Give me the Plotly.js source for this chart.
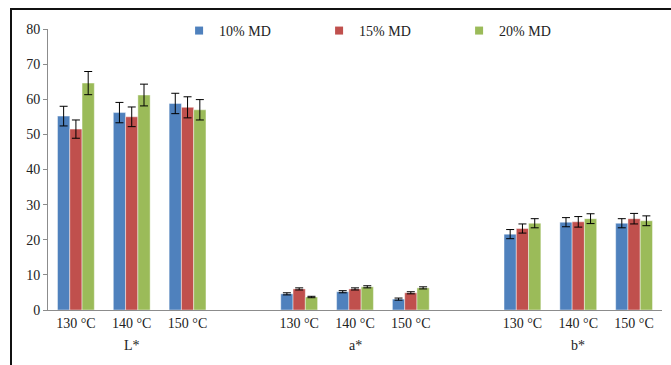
<!DOCTYPE html>
<html>
<head>
<meta charset="utf-8">
<script src="https://cdn.plot.ly/plotly-3.0.1.min.js"></script>
<style>
  html, body { margin: 0; padding: 0; background: #fff; }
  #wrap { position: relative; width: 671px; height: 365px; overflow: hidden; }
  #chart { position: absolute; left: 0; top: 0; width: 671px; height: 365px; }
  #frame { position: absolute; left: 10px; top: 8px; width: 700px; height: 400px;
           border-top: 2px solid #111; border-left: 2px solid #111; pointer-events: none; }
</style>
</head>
<body>
<div id="wrap"><div id="chart"></div><div id="frame"></div></div>
<script>
// ---- data ----
const groups = ["L*", "a*", "b*"];
const temps = ["130 °C", "140 °C", "150 °C"];
const seriesNames = ["10% MD", "15% MD", "20% MD"];
const seriesColors = ["#4F81BD", "#C0504D", "#9BBB59"];

// values per series: [L* 130,140,150, a* 130,140,150, b* 130,140,150]
const md10 = [55.2, 56.2, 58.8, 4.6, 5.2, 3.1, 21.6, 25.0, 24.7];
const md15 = [51.5, 55.0, 57.7, 6.0, 6.0, 4.9, 23.2, 25.1, 26.0];
const md20 = [64.6, 61.2, 57.0, 3.7, 6.6, 6.3, 24.7, 26.0, 25.4];

const err10 = [2.8, 2.9, 2.9, 0.3, 0.3, 0.3, 1.3, 1.3, 1.3];
const err15 = [2.6, 2.8, 3.0, 0.3, 0.3, 0.3, 1.3, 1.5, 1.5];
const err20 = [3.3, 3.1, 2.9, 0.2, 0.3, 0.3, 1.3, 1.4, 1.4];

const yTicks = [0, 10, 20, 30, 40, 50, 60, 70, 80];

// ---- build ----
const slotsPerGroup = temps.length + 1; // one empty slot between groups
const xPos = [];
const tickText = [];
groups.forEach((g, gi) => temps.forEach((t, ti) => {
  xPos.push(gi * slotsPerGroup + ti);
  tickText.push(t);
}));
const nSlots = groups.length * slotsPerGroup - 1;

const values = [md10, md15, md20];
const errors = [err10, err15, err20];
const font = "Liberation Serif";

const traces = [];
values.forEach((v, i) => {
  traces.push({
    type: "bar",
    x: xPos,
    y: v,
    name: seriesNames[i],
    showlegend: false,
    marker: { color: seriesColors[i], line: { color: "rgba(255,255,255,0.55)", width: 0.8 } },
    error_y: { type: "data", array: errors[i], visible: true, color: "#000", thickness: 1, width: 4 },
    hoverinfo: "skip"
  });
});
// legend-only entries with small square symbols
seriesNames.forEach((n, i) => {
  traces.push({
    type: "scatter", mode: "markers", x: [null], y: [null], name: n,
    marker: { symbol: "square", size: 8, color: seriesColors[i] },
    hoverinfo: "skip"
  });
});

const annotations = groups.map((g, gi) => ({
  text: g, x: gi * slotsPerGroup + 1, xref: "x",
  y: 0, yref: "paper", yanchor: "top", yshift: -26,
  showarrow: false, font: { family: font, size: 14, color: "#222" }
}));

const layout = {
  width: 671, height: 365,
  margin: { l: 48, r: 9, t: 29, b: 55, autoexpand: false },
  paper_bgcolor: "#fff", plot_bgcolor: "#fff",
  font: { family: font, size: 14, color: "#222" },
  barmode: "group",
  bargap: 0.34, bargroupgap: 0,
  showlegend: true,
  legend: {
    orientation: "h", x: 0.2135, y: 0.993, xanchor: "left", yanchor: "middle",
    entrywidth: 95, entrywidthmode: "pixels",
    font: { family: font, size: 14, color: "#222" },
    itemwidth: 30, bgcolor: "rgba(0,0,0,0)"
  },
  xaxis: {
    range: [-0.5, nSlots - 0.5],
    tickvals: xPos, ticktext: tickText,
    showgrid: false, zeroline: false,
    showline: true, linecolor: "#8c8c8c", linewidth: 1,
    ticks: "", tickfont: { family: font, size: 14, color: "#222" },
    fixedrange: true
  },
  yaxis: {
    range: [0, 80],
    tickvals: yTicks,
    showgrid: false, zeroline: false,
    showline: true, linecolor: "#8c8c8c", linewidth: 1,
    ticks: "outside", ticklen: 4, tickcolor: "#8c8c8c",
    tickfont: { family: font, size: 14, color: "#222" },
    fixedrange: true
  },
  annotations: annotations
};

Plotly.newPlot("chart", traces, layout, { displayModeBar: false, staticPlot: true });
</script>
</body>
</html>
